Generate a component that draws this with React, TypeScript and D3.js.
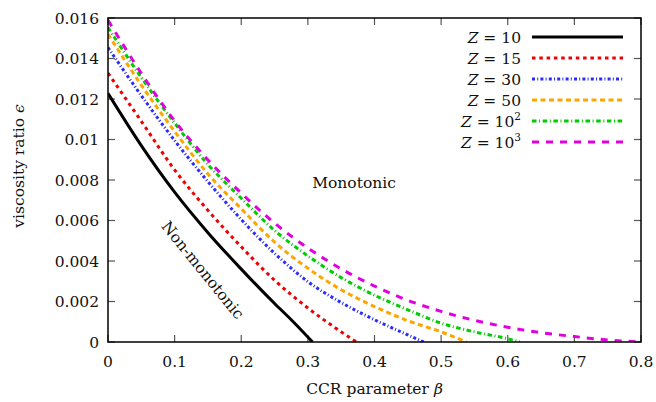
import React from "react";
import * as d3 from "d3";

const betaTicks = [0, 0.1, 0.2, 0.3, 0.4, 0.5, 0.6, 0.7, 0.8];
const betaTickLabels = ["0", "0.1", "0.2", "0.3", "0.4", "0.5", "0.6", "0.7", "0.8"];
const epsTicks = [0, 0.002, 0.004, 0.006, 0.008, 0.01, 0.012, 0.014, 0.016];
const epsTickLabels = ["0", "0.002", "0.004", "0.006", "0.008", "0.01", "0.012", "0.014", "0.016"];

const betaZ10 = [0, 0.05, 0.1, 0.15, 0.2, 0.25, 0.275, 0.307];
const epsZ10 = [0.01228, 0.0097, 0.0074, 0.0054, 0.0036, 0.0019, 0.0011, 0];

const betaZ15 = [0, 0.05, 0.1, 0.15, 0.2, 0.25, 0.3, 0.35, 0.373];
const epsZ15 = [0.01328, 0.0109, 0.0085, 0.0065, 0.0047, 0.00305, 0.00168, 0.0005, 0];

const betaZ30 = [0, 0.05, 0.1, 0.15, 0.2, 0.25, 0.3, 0.35, 0.4, 0.45, 0.474];
const epsZ30 = [0.01454, 0.01217, 0.00995, 0.00792, 0.00605, 0.00438, 0.00298, 0.00195, 0.0011, 0.00035, 0];

const betaZ50 = [0, 0.05, 0.1, 0.15, 0.2, 0.25, 0.3, 0.35, 0.4, 0.45, 0.5, 0.538];
const epsZ50 = [0.0152, 0.01269, 0.0104, 0.0083, 0.00658, 0.00493, 0.00364, 0.00258, 0.00175, 0.00105, 0.0005, 0];

const betaZ100 = [0, 0.05, 0.1, 0.15, 0.2, 0.25, 0.3, 0.35, 0.4, 0.45, 0.5, 0.55, 0.6, 0.618];
const epsZ100 = [0.01553, 0.01306, 0.01081, 0.00877, 0.0071, 0.00551, 0.00425, 0.00318, 0.00231, 0.00159, 0.00093, 0.0005, 0.00016, 0];

const betaZ1000 = [0, 0.05, 0.1, 0.15, 0.2, 0.25, 0.3, 0.35, 0.4, 0.45, 0.5, 0.55, 0.6, 0.65, 0.7, 0.75, 0.8];
const epsZ1000 = [0.01589, 0.01327, 0.01092, 0.00899, 0.00735, 0.00587, 0.00464, 0.00361, 0.00276, 0.00206, 0.00151, 0.00107, 0.00073, 0.00046, 0.00027, 0.0001, 0];

const seriesBase = ["10", "15", "30", "50", "10", "10"];
const seriesSup = ["", "", "", "", "2", "3"];
const seriesBetas = [betaZ10, betaZ15, betaZ30, betaZ50, betaZ100, betaZ1000];
const seriesEps = [epsZ10, epsZ15, epsZ30, epsZ50, epsZ100, epsZ1000];
const seriesColors = ["#000000", "#ee0000", "#2b2bff", "#ffa500", "#00cc00", "#e000e0"];
const seriesDash = ["none", "3.5,3.8", "3,2.2,1,2.2", "5,3.5", "4.5,2.6,1,2.6", "7,7"];

const W = 656;
const H = 402;
const L = 108, R = 641, T = 18, B = 342;
const FONT = "'DejaVu Serif', 'Liberation Serif', serif";
const FS = 15.5;

export default function App() {
  const x = d3.scaleLinear().domain([0, 0.8]).range([L, R]);
  const y = d3.scaleLinear().domain([0, 0.016]).range([B, T]);
  const line = d3
    .line<[number, number]>()
    .x((d) => x(d[0]))
    .y((d) => y(d[1]))
    .curve(d3.curveMonotoneX);

  const legendY = [37, 58, 79, 100, 121, 142];

  return (
    <svg
      width={W}
      height={H}
      style={{ position: "absolute", left: 0, top: 0, background: "#fff", fontFamily: FONT }}
    >
      <defs>
        <clipPath id="plot">
          <rect x={L} y={T - 2} width={R - L} height={B - T + 2} />
        </clipPath>
      </defs>
      {betaTicks.map((t, i) => (
        <g key={"xt" + i}>
          <line x1={x(t)} x2={x(t)} y1={B} y2={B - 7} stroke="#555" strokeWidth={1.2} />
          <line x1={x(t)} x2={x(t)} y1={T} y2={T + 7} stroke="#555" strokeWidth={1.2} />
          <text x={x(t)} y={367} textAnchor="middle" fontSize={FS} fill="#111">
            {betaTickLabels[i]}
          </text>
        </g>
      ))}
      {epsTicks.map((t, i) => (
        <g key={"yt" + i}>
          <line x1={L} x2={L + 7} y1={y(t)} y2={y(t)} stroke="#555" strokeWidth={1.2} />
          <line x1={R} x2={R - 7} y1={y(t)} y2={y(t)} stroke="#555" strokeWidth={1.2} />
          <text x={99} y={y(t) + 5.5} textAnchor="end" fontSize={FS} fill="#111">
            {epsTickLabels[i]}
          </text>
        </g>
      ))}
      <g clipPath="url(#plot)">
        {seriesBetas.map((bs, i) => (
          <path
            key={"c" + i}
            d={line(bs.map((b, j) => [b, seriesEps[i][j]] as [number, number])) || ""}
            fill="none"
            stroke={seriesColors[i]}
            strokeWidth={3}
            strokeDasharray={seriesDash[i]}
          />
        ))}
      </g>
      <rect x={L} y={T} width={R - L} height={B - T} fill="none" stroke="#000" strokeWidth={1.5} />
      {seriesBase.map((n, i) => (
        <g key={"lg" + i}>
          <text x={521} y={legendY[i] + 5.5} textAnchor="end" fontSize={FS} fill="#111">
            <tspan fontStyle="italic">Z</tspan>
            <tspan> = </tspan>
            <tspan>{n}</tspan>
            {seriesSup[i] ? (
              <tspan fontSize={10.5} dy={-7}>
                {seriesSup[i]}
              </tspan>
            ) : null}
          </text>
          <line
            x1={532}
            x2={623}
            y1={legendY[i]}
            y2={legendY[i]}
            stroke={seriesColors[i]}
            strokeWidth={3}
            strokeDasharray={seriesDash[i]}
          />
        </g>
      ))}
      <text x={354} y={188} textAnchor="middle" fontSize={FS} fill="#111">
        Monotonic
      </text>
      <text
        transform="translate(203,270) rotate(51)"
        textAnchor="middle"
        fontSize={FS}
        fill="#111"
        dy={5.5}
      >
        Non-monotonic
      </text>
      <text x={374.5} y={394} textAnchor="middle" fontSize={FS} fill="#111">
        CCR parameter <tspan fontStyle="italic">β</tspan>
      </text>
      <text
        transform="translate(24,166) rotate(-90)"
        textAnchor="middle"
        fontSize={FS}
        fill="#111"
      >
        viscosity ratio <tspan fontStyle="italic">ϵ</tspan>
      </text>
    </svg>
  );
}
